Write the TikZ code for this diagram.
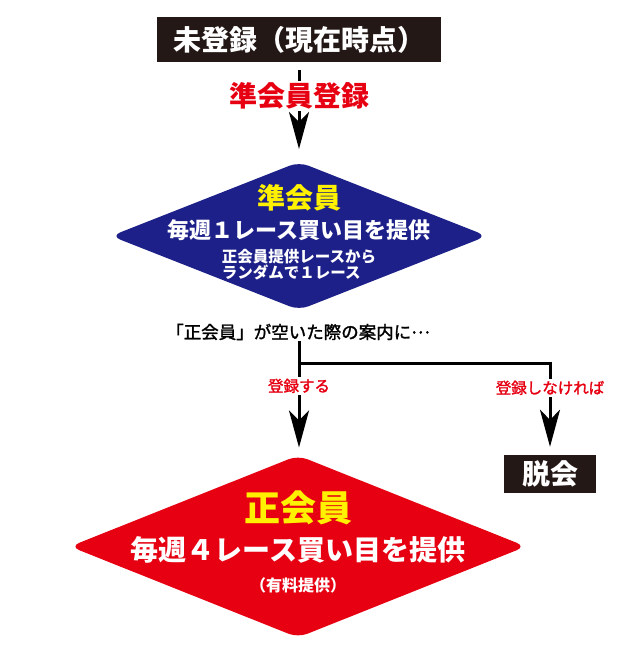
\documentclass[tikz,border=0pt]{standalone}
\usepackage{fontspec}
\setmainfont{Noto Sans CJK JP}
\newfontfamily\jpmed[FakeBold=1.6]{Noto Sans CJK JP}
\usetikzlibrary{arrows.meta,shapes.geometric}
\definecolor{boxblack}{RGB}{35,24,21}
\definecolor{jnavy}{RGB}{29,32,136}
\definecolor{jred}{RGB}{230,0,18}
\definecolor{jyellow}{RGB}{255,241,0}
\newcommand{\fsz}[1]{\fontsize{#1}{#1}\selectfont}
\begin{document}
\begin{tikzpicture}[x=1pt,y=-1pt,
  blackbox/.style={fill=boxblack, text=white, font=\bfseries\fsz{28}, inner sep=0pt},
  gem/.style={diamond, inner sep=0pt, outer sep=0pt, rounded corners=10pt, draw=none},
  arr/.style={line width=3pt, -{Stealth[length=37pt,width=20pt,inset=10pt]}},
  lab/.style={fill=white, text=jred, font=\jpmed\fsz{15.5}, inner sep=2pt},
  wtxt/.style={text=white, font=\bfseries, inner sep=0pt},
  ytxt/.style={text=jyellow, font=\bfseries, inner sep=0pt},
]
\useasboundingbox (0,0) rectangle (640,672);

% top box
\node[blackbox, minimum width=284pt, minimum height=45pt] (top) at (299,39.5) {未登録（現在時点）};

% blue diamond
\node[gem, fill=jnavy, minimum width=376pt, minimum height=148pt] (jun) at (299,236) {};
\node[ytxt, font=\bfseries\fsz{28}] (junT) at (299,198) {準会員};
\node[wtxt, font=\bfseries\fsz{22}] (junA) at (299,230) {毎週１レース買い目を提供};
\node[wtxt, font=\bfseries\fontsize{15.5}{14.5}\selectfont, align=left] (junB) at (299,265) {正会員提供レースから\\ランダムで１レース};

% arrow top -> blue
\draw[arr, shorten <=8pt, shorten >=13pt] (top.south) -- node[pos=0.34, fill=white, text=jred, font=\bfseries\fsz{28}, inner sep=1.5pt] (reg) {準会員登録} (jun.north);

% note text
\node[font=\jpmed\fsz{17.5}, inner sep=1pt] (note) at (298,332) {「正会員」が空いた際の案内に\raisebox{0.3em}{…}};
\coordinate (br) at (299,363);

% red diamond
\node[gem, fill=jred, minimum width=456pt, minimum height=182pt] (sei) at (298,546.5) {};
\node[ytxt, font=\bfseries\fsz{36}] (seiT) at (298,508) {正会員};
\node[wtxt, font=\bfseries\fsz{28}] (seiA) at (298,550) {毎週４レース買い目を提供};
\node[wtxt, font=\bfseries\fsz{16}] (seiB) at (298,585) {（有料提供）};

% leave box
\node[blackbox, minimum width=92pt, minimum height=38pt] (out) at (550,474) {脱会};

% branches
\draw[arr, shorten >=8pt] (note.south -| br) -- node[lab, pos=0.39] {登録する} (br |- sei.north);
\draw[arr, shorten >=8pt] (br) -- (br -| out.north) -- node[lab, pos=0.27] {登録しなければ} (out.north);
\end{tikzpicture}
\end{document}
